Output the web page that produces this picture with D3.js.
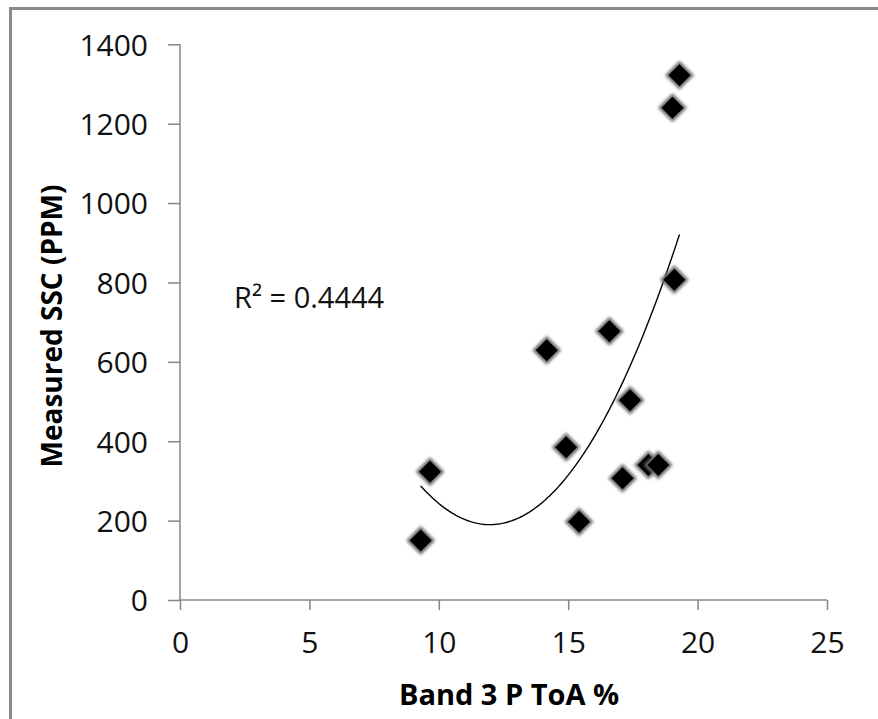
<!DOCTYPE html>
<html>
<head>
<meta charset="utf-8">
<script src="https://cdn.jsdelivr.net/npm/d3@7/dist/d3.min.js"></script>
<style>
  body { margin: 0; background: #fff; }
  svg { display: block; font-family: "Open Sans", "DejaVu Sans", sans-serif; }
</style>
</head>
<body>
<svg id="chart" width="878" height="719"></svg>
<script>
// Band 3 top-of-atmosphere reflectance (%) and measured suspended sediment (ppm)
const bandToA = [9.3, 9.66, 14.17, 14.92, 15.42, 16.59, 17.1, 17.39, 18.1, 18.48, 19.03, 19.1, 19.3];
const ssc     = [150, 323, 629, 385, 197, 677, 307, 503, 340, 340, 1240, 807, 1322];

const xTicks = [0, 5, 10, 15, 20, 25];
const yTicks = [0, 200, 400, 600, 800, 1000, 1200, 1400];

const xTitle = "Band 3 P ToA %";
const yTitle = "Measured SSC (PPM)";
const r2Label = "R² = 0.4444";

const svg = d3.select("#chart");

// outer frame of the chart object
svg.append("rect")
  .attr("x", 10.5).attr("y", 8.5)
  .attr("width", 880).attr("height", 720)
  .attr("fill", "none").attr("stroke", "#8a8a8a").attr("stroke-width", 3);

const x = d3.scaleLinear().domain([0, 25]).range([180, 827]);
const y = d3.scaleLinear().domain([0, 1400]).range([600, 44.3]);

const axisColor = "#868686";

// y axis
const gy = svg.append("g")
  .attr("transform", `translate(${x(0)},0)`)
  .call(d3.axisLeft(y).tickValues(yTicks).tickSize(12).tickPadding(20).tickFormat(d3.format("d")));
// x axis
const gx = svg.append("g")
  .attr("transform", `translate(0,${y(0)})`)
  .call(d3.axisBottom(x).tickValues(xTicks).tickSize(10).tickPadding(22).tickFormat(d3.format("d")));

[gx, gy].forEach(g => {
  g.select(".domain").attr("stroke", axisColor).attr("stroke-width", 1.5);
  g.selectAll(".tick line").attr("stroke", axisColor).attr("stroke-width", 1.5);
  g.selectAll(".tick text")
    .attr("fill", "#111")
    .style("font-family", "'Open Sans', sans-serif")
    .style("font-size", "30px");
});
gy.selectAll(".domain").attr("d", `M-0,${y(0)}V${y(1400)}`);
gy.selectAll(".tick text").attr("dy", "0.36em");
gx.selectAll(".domain").attr("d", `M${x(0)},0H${x(25)}`);
gx.selectAll(".tick text").attr("dy", "0.71em");

// second-order polynomial least-squares trendline
function quadFit(xs, ys) {
  const n = xs.length;
  let s = [0, 0, 0, 0, 0], t = [0, 0, 0];
  for (let i = 0; i < n; i++) {
    let p = 1;
    for (let k = 0; k <= 4; k++) { s[k] += p; p *= xs[i]; }
    t[0] += ys[i]; t[1] += ys[i] * xs[i]; t[2] += ys[i] * xs[i] * xs[i];
  }
  const A = [[s[0], s[1], s[2], t[0]], [s[1], s[2], s[3], t[1]], [s[2], s[3], s[4], t[2]]];
  for (let c = 0; c < 3; c++) {
    for (let r = c + 1; r < 3; r++) {
      const f = A[r][c] / A[c][c];
      for (let k = c; k < 4; k++) A[r][k] -= f * A[c][k];
    }
  }
  const b = [0, 0, 0];
  for (let r = 2; r >= 0; r--) {
    let v = A[r][3];
    for (let k = r + 1; k < 3; k++) v -= A[r][k] * b[k];
    b[r] = v / A[r][r];
  }
  return b; // c0 + c1 x + c2 x^2
}
const coef = quadFit(bandToA, ssc);
const [xMin, xMax] = d3.extent(bandToA);
const curvePts = d3.range(0, 101).map(i => {
  const xv = xMin + (xMax - xMin) * i / 100;
  return [xv, coef[0] + coef[1] * xv + coef[2] * xv * xv];
});
svg.append("path")
  .datum(curvePts)
  .attr("d", d3.line().x(d => x(d[0])).y(d => y(d[1])))
  .attr("fill", "none").attr("stroke", "#000").attr("stroke-width", 1.4);

// diamond markers with soft grey halo
const defs = svg.append("defs");
defs.append("filter").attr("id", "halo").attr("x", "-50%").attr("y", "-50%").attr("width", "200%").attr("height", "200%")
  .append("feGaussianBlur").attr("stdDeviation", 1.8);
defs.append("filter").attr("id", "soft")
  .append("feGaussianBlur").attr("stdDeviation", 0.7);

const diamond = r => `M0,${-r}L${r},0L0,${r}L${-r},0Z`;
const pts = svg.append("g").selectAll("g")
  .data(bandToA.map((v, i) => [v, ssc[i]]))
  .join("g")
  .attr("transform", d => `translate(${x(d[0])},${y(d[1])})`);
pts.append("path").attr("d", diamond(14.5)).attr("fill", "#6e6e6e").attr("filter", "url(#halo)");
pts.append("path").attr("d", diamond(11)).attr("fill", "#000").attr("filter", "url(#soft)");

// R² annotation
svg.append("text")
  .attr("x", 234).attr("y", 308)
  .attr("fill", "#111")
  .style("font-size", "29px")
  .text(r2Label);

// axis titles
svg.append("text")
  .attr("x", 509).attr("y", 705)
  .attr("text-anchor", "middle")
  .attr("fill", "#000")
  .style("font-size", "29px").style("font-weight", "bold")
  .text(xTitle);
svg.append("text")
  .attr("transform", "translate(62,326) rotate(-90)")
  .attr("text-anchor", "middle")
  .attr("fill", "#000")
  .style("font-size", "28px").style("font-weight", "bold")
  .text(yTitle);
</script>
</body>
</html>
